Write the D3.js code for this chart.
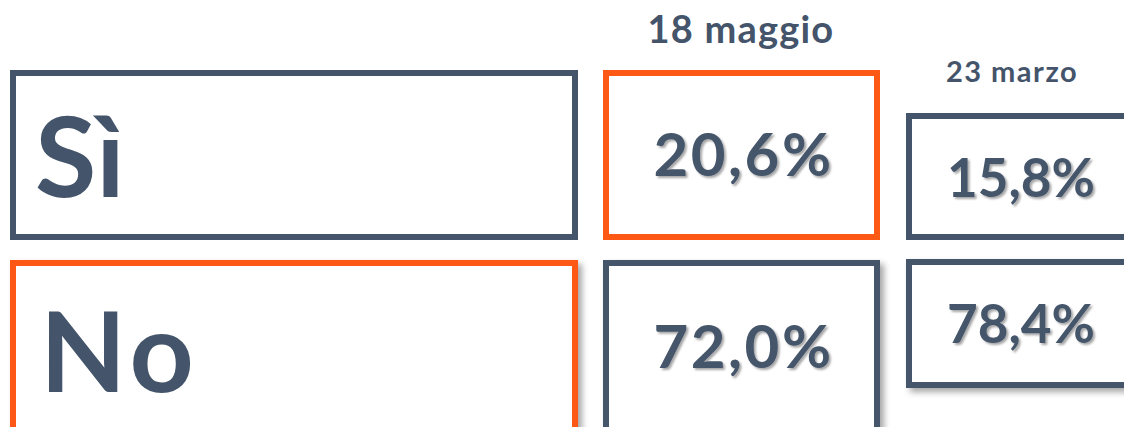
<!DOCTYPE html>
<html>
<head>
<meta charset="utf-8">
<script src="https://cdn.jsdelivr.net/npm/d3@7"></script>
<style>
  body { margin: 0; background: #fff; }
  text { font-family: "Lato", "Open Sans", sans-serif; font-weight: 700; fill: #44546a; }
</style>
</head>
<body>
<svg id="chart" width="1124" height="427"></svg>
<script>
var answers = ["Sì", "No"];
var surveys = ["18 maggio", "23 marzo"];
var may18 = [20.6, 72.0];
var mar23 = [15.8, 78.4];
var highlight = ["Sì|18 maggio", "No|label"];

var slate = "#44546a", orange = "#fe5815";
var it = d3.formatLocale({ decimal: ",", thousands: ".", grouping: [3], currency: ["€", ""] });
var pct = function(v) { return it.format(".1f")(v) + "%"; };

var svg = d3.select("#chart");
var defs = svg.append("defs");
defs.append("filter").attr("id", "boxShadow").attr("x", "-10%").attr("y", "-10%").attr("width", "130%").attr("height", "130%")
  .append("feDropShadow").attr("dx", 4).attr("dy", 4).attr("stdDeviation", 3)
  .attr("flood-color", "#000").attr("flood-opacity", 0.35);
defs.append("filter").attr("id", "textShadow")
  .append("feDropShadow").attr("dx", 2).attr("dy", 2).attr("stdDeviation", 1.2)
  .attr("flood-color", "#000").attr("flood-opacity", 0.35);

// column layout: label column, then one per survey
var colX = d3.scaleOrdinal().domain(["label"].concat(surveys)).range([13, 606, 909]);
var colW = d3.scaleOrdinal().domain(["label"].concat(surveys)).range([562, 271, 220]);
var rowY = d3.scaleOrdinal().domain(answers).range([73, 263]);
// the older survey uses smaller boxes
var boxTop = function(col, row) { return col === surveys[1] ? (row === "Sì" ? 116 : 262) : rowY(row); };
var boxH = function(col, row) { return col === surveys[1] ? (row === "Sì" ? 121 : 123) : (row === "Sì" ? 164 : 200); };

var cells = [];
answers.forEach(function(a, i) {
  cells.push({ row: a, col: "label", text: a });
  cells.push({ row: a, col: surveys[0], text: pct(may18[i]) });
  cells.push({ row: a, col: surveys[1], text: pct(mar23[i]) });
});

var g = svg.selectAll("g.cell").data(cells).enter().append("g").attr("class", "cell");

g.append("rect")
  .attr("x", function(d) { return colX(d.col); })
  .attr("y", function(d) { return boxTop(d.col, d.row); })
  .attr("width", function(d) { return colW(d.col); })
  .attr("height", function(d) { return boxH(d.col, d.row); })
  .attr("fill", "#fff")
  .attr("stroke", function(d) { return highlight.indexOf(d.row + "|" + d.col) >= 0 ? orange : slate; })
  .attr("stroke-width", 6)
  .attr("filter", function(d) { return d.row === "No" ? "url(#boxShadow)" : null; });

g.append("text")
  .attr("x", function(d) {
    if (d.col === "label") return d.row === "Sì" ? 35 : 40;
    return colX(d.col) + colW(d.col) / 2 + (d.col === surveys[0] ? 2 : 2);
  })
  .attr("y", function(d) {
    if (d.col === "label") return d.row === "Sì" ? 197 : 392;
    if (d.col === surveys[0]) return d.row === "Sì" ? 176 : 368;
    return d.row === "Sì" ? 197 : 343;
  })
  .attr("text-anchor", function(d) { return d.col === "label" ? "start" : "middle"; })
  .attr("font-size", function(d) { return d.col === "label" ? 112 : (d.col === surveys[0] ? 60 : 53); })
  .attr("letter-spacing", function(d) {
    if (d.col === "label") return d.row === "No" ? 5 : 0;
    return d.col === surveys[0] ? 2.5 : 0;
  })
  .attr("filter", function(d) { return d.col === "label" ? null : "url(#textShadow)"; })
  .text(function(d) { return d.text; });

// survey headers
svg.selectAll("text.head").data(surveys).enter().append("text")
  .attr("class", "head")
  .attr("x", function(d, i) { return i === 0 ? 741 : 1012; })
  .attr("y", function(d, i) { return i === 0 ? 43 : 82; })
  .attr("text-anchor", "middle")
  .attr("font-size", function(d, i) { return i === 0 ? 38 : 29; })
  .attr("letter-spacing", function(d, i) { return i === 0 ? 1.2 : 1.5; })
  .text(function(d) { return d; });
</script>
</body>
</html>
